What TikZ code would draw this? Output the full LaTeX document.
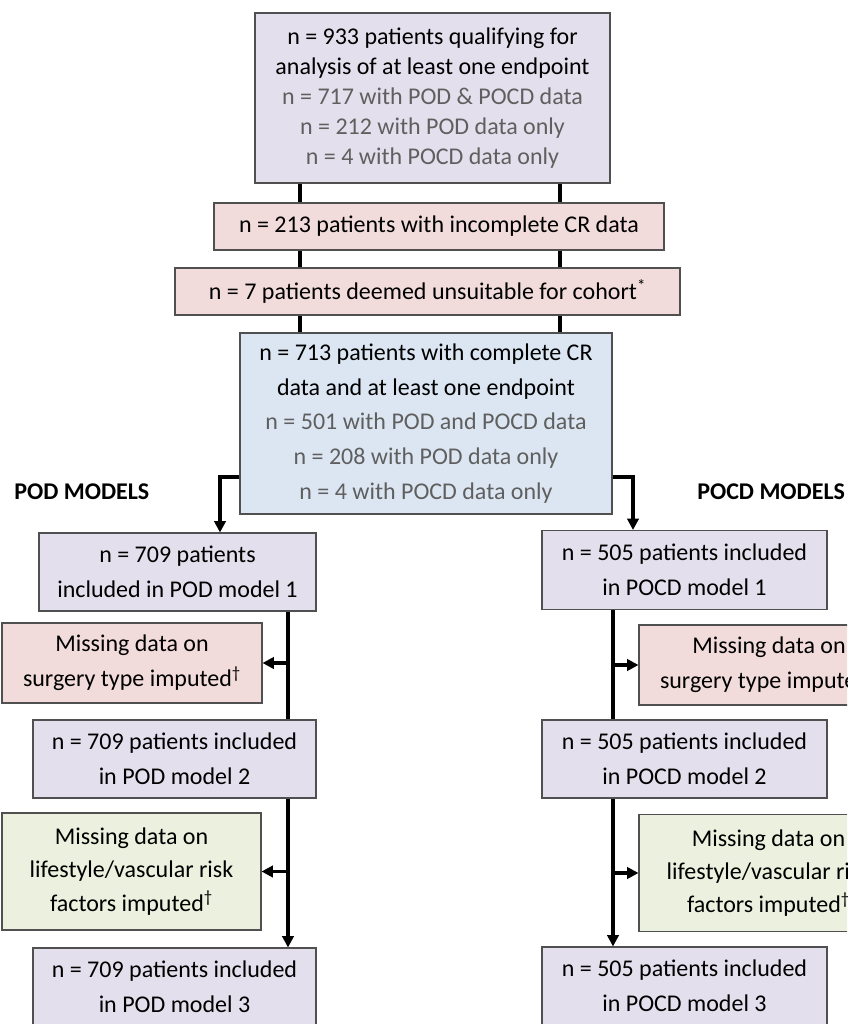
\documentclass[tikz,border=0pt]{standalone}
\usepackage{fontspec}
\setmainfont{Carlito}
\usetikzlibrary{arrows.meta,backgrounds}
\definecolor{boxpurple}{HTML}{E4DFEC}
\definecolor{boxpink}{HTML}{F2DCDB}
\definecolor{boxblue}{HTML}{DCE6F2}
\definecolor{boxgreen}{HTML}{EBF1DE}
\definecolor{txtgray}{HTML}{5F5F5F}
\definecolor{bordergray}{HTML}{505050}
\begin{document}
\begin{tikzpicture}[x=0.75pt,y=-0.75pt,
  bx/.style 2 args={draw=bordergray, line width=0.8pt, minimum width=#1*0.75pt,
    minimum height=#2*0.75pt, inner sep=0pt, align=center,
    font=\fontsize{18}{26}\selectfont},
  ln/.style={line width=2.8pt, line join=miter, draw=black},
  arr/.style={ln, -{Triangle[length=8.5pt,width=8.5pt]}},
  lab/.style={anchor=west, inner sep=0pt, font=\fontsize{18}{22}\selectfont\bfseries}
]
\useasboundingbox (0,0) rectangle (847,1024);
\clip (0,0) rectangle (847,1024);

% helper coordinates
\coordinate (xl) at (300,0);
\coordinate (xr) at (560,0);
\coordinate (yl) at (0,477);
\coordinate (cl) at (220,0);
\coordinate (cr) at (633,0);
\coordinate (tl) at (288,0);
\coordinate (tr) at (613,0);

% main column
\node[bx={355}{170}, fill=boxpurple, font=\fontsize{18}{22.5}\selectfont] (top) at (432.5,98)
  {n = 933 patients qualifying for\\analysis of at least one endpoint\\
   \textcolor{txtgray}{n = 717 with POD \& POCD data}\\
   \textcolor{txtgray}{n = 212 with POD data only}\\
   \textcolor{txtgray}{n = 4 with POCD data only}};
\node[bx={450}{47}, fill=boxpink] (ex1) at (439,226.5)
  {n = 213 patients with incomplete CR data};
\node[bx={505}{47}, fill=boxpink] (ex2) at (427.5,291.5)
  {n = 7 patients deemed unsuitable for cohort\textsuperscript{*}};
\node[bx={372}{181}, fill=boxblue] (blue) at (426,423.5)
  {n = 713 patients with complete CR\\data and at least one endpoint\\
   \textcolor{txtgray}{n = 501 with POD and POCD data}\\
   \textcolor{txtgray}{n = 208 with POD data only}\\
   \textcolor{txtgray}{n = 4 with POCD data only}};

\node[lab] (podlab) at (14,492) {POD MODELS};
\node[lab] (pocdlab) at (697,492) {POCD MODELS};

% left column
\node[bx={277}{78}, fill=boxpurple] (L1) at (177.5,572)
  {n = 709 patients\\included in POD model 1};
\node[bx={260}{80}, fill=boxpink] (PL) at (132,663)
  {Missing data on\\surgery type imputed\textsuperscript{\textdagger}};
\node[bx={283}{78}, fill=boxpurple] (L2) at (174.5,759)
  {n = 709 patients included\\in POD model 2};
\node[bx={259}{117}, fill=boxgreen, font=\fontsize{18}{25}\selectfont] (GL) at (131.5,871.5)
  {Missing data on\\lifestyle/vascular risk\\factors imputed\textsuperscript{\textdagger}};
\node[bx={283}{78}, fill=boxpurple] (L3) at (174.5,987)
  {n = 709 patients included\\in POD model 3};

% right column
\node[bx={285}{79}, fill=boxpurple] (R1) at (684.5,570)
  {n = 505 patients included\\in POCD model 1};
\node[bx={260}{80}, fill=boxpink] (PR) at (769,665)
  {Missing data on\\surgery type imputed\textsuperscript{\textdagger}};
\node[bx={285}{78}, fill=boxpurple] (R2) at (684.5,759)
  {n = 505 patients included\\in POCD model 2};
\node[bx={259}{117}, fill=boxgreen, font=\fontsize{18}{25}\selectfont] (GR) at (768.5,873)
  {Missing data on\\lifestyle/vascular risk\\factors imputed\textsuperscript{\textdagger}};
\node[bx={285}{78}, fill=boxpurple] (R3) at (684.5,986)
  {n = 505 patients included\\in POCD model 3};

% connectors behind boxes
\begin{scope}[on background layer]
  \draw[ln] (top.south -| xl) -- (blue.north -| xl);
  \draw[ln] (top.south -| xr) -- (blue.north -| xr);
  \draw[ln] (L1.south -| tl) -- (L2.north -| tl);
  \draw[ln] (R1.south -| tr) -- (R2.north -| tr);
\end{scope}

% arrows
\draw[arr] (blue.west |- yl) -| (L1.north -| cl);
\draw[arr] (blue.east |- yl) -| (R1.north -| cr);
\draw[arr] (L2.south -| tl) -- (L3.north -| tl);
\draw[arr] (R2.south -| tr) -- (R3.north -| tr);
\draw[arr] (tl |- PL.east) -- (PL.east);
\draw[arr] (tl |- GL.east) -- (GL.east);
\draw[arr] (tr |- PR.west) -- (PR.west);
\draw[arr] (tr |- GR.west) -- (GR.west);
\end{tikzpicture}
\end{document}
